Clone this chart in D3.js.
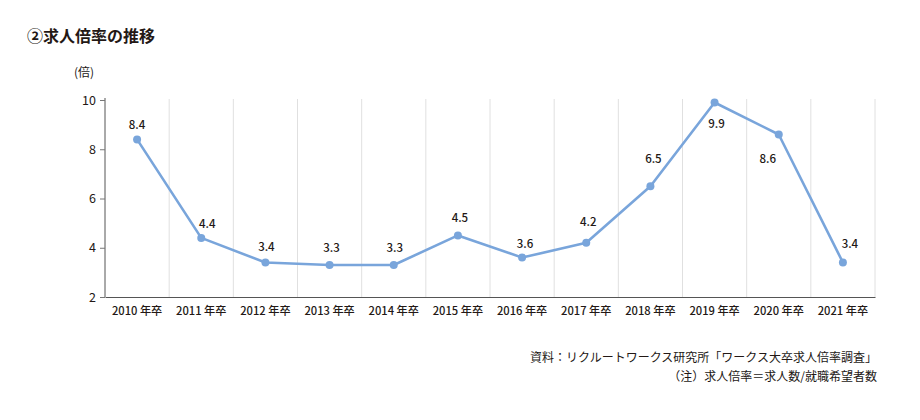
<!DOCTYPE html>
<html><head><meta charset="utf-8">
<script src="https://cdn.jsdelivr.net/npm/d3@7/dist/d3.min.js"></script>
<style>
html,body{margin:0;padding:0;background:#fff;}
svg{display:block;font-family:"Noto Sans CJK JP","Noto Sans",sans-serif;}
</style></head>
<body>
<svg id="c" width="920" height="420"></svg>
<script>
const categories = ["2010 年卒","2011 年卒","2012 年卒","2013 年卒","2014 年卒","2015 年卒","2016 年卒","2017 年卒","2018 年卒","2019 年卒","2020 年卒","2021 年卒"];
const values = [8.4, 4.4, 3.4, 3.3, 3.3, 4.5, 3.6, 4.2, 6.5, 9.9, 8.6, 3.4];
const yTicks = [2, 4, 6, 8, 10];
const titleText = "②求人倍率の推移";
const unitText = "(倍)";
const notes = ["資料：リクルートワークス研究所「ワークス大卒求人倍率調査」", "（注）求人倍率＝求人数/就職希望者数"];
// label placement offsets (layout, px)
const labelOffsets = [[0,-14],[6,-14],[1,-16],[2,-17],[1,-17],[2,-17],[3,-14],[2,-21],[3,-27],[2,22],[-11,24],[7,-19]];

const svg = d3.select("#c");
const pL = 105, pR = 875, pT = 100, pB = 297;
const x = d3.scaleBand().domain(categories).range([pL, pR]).padding(0);
const y = d3.scaleLinear().domain([2, 10]).range([pB, pT]);
const color = "#79a5db";
const ink = "#231815";

svg.append("text").attr("x", 27).attr("y", 42).attr("font-size", 16).attr("font-weight", 700)
  .attr("fill", ink).text(titleText);
svg.append("text").attr("x", 84).attr("y", 77).attr("text-anchor", "middle").attr("font-size", 12)
  .attr("fill", ink).text(unitText);

// vertical gridlines at band boundaries
const bounds = categories.map(c => x(c) + x.bandwidth());
svg.append("g").selectAll("line").data(bounds).join("line")
  .attr("x1", d => d).attr("x2", d => d).attr("y1", pT - 1).attr("y2", pB)
  .attr("stroke", "#e0e0e0").attr("stroke-width", 1);

// y axis
const ya = svg.append("g").attr("transform", `translate(${pL},0)`)
  .call(d3.axisLeft(y).tickValues(yTicks).tickSize(5).tickPadding(4).tickFormat(d3.format("d")));
ya.select(".domain").attr("stroke", "#555").attr("d", `M0,${pT - 2}V${pB}`);
ya.selectAll(".tick line").attr("stroke", "#777");
ya.selectAll(".tick text").attr("font-size", 12.5).attr("fill", ink).attr("font-family", "'Noto Sans CJK JP',sans-serif");

// x axis
const xa = svg.append("g").attr("transform", `translate(0,${pB})`)
  .call(d3.axisBottom(x).tickSize(0).tickPadding(10));
xa.select(".domain").attr("stroke", "#555");
xa.selectAll(".tick text").attr("font-size", 11.2).attr("font-weight", 500).attr("fill", ink)
  .attr("font-family", "'Noto Sans CJK JP',sans-serif");

const cx = c => x(c) + x.bandwidth() / 2;
const line = d3.line().x((d, i) => cx(categories[i])).y(d => y(d));
svg.append("path").datum(values).attr("d", line).attr("fill", "none")
  .attr("stroke", color).attr("stroke-width", 2.6).attr("stroke-linejoin", "round");
svg.append("g").selectAll("circle").data(values).join("circle")
  .attr("cx", (d, i) => cx(categories[i])).attr("cy", d => y(d)).attr("r", 4).attr("fill", color);

svg.append("g").selectAll("text").data(values).join("text")
  .attr("x", (d, i) => cx(categories[i]) + labelOffsets[i][0])
  .attr("y", (d, i) => y(d) + labelOffsets[i][1])
  .attr("dy", "0.35em").attr("text-anchor", "middle").attr("font-size", 11.5).attr("font-weight", 500)
  .attr("fill", ink).text(d => d3.format(".1f")(d));

svg.append("g").selectAll("text").data(notes).join("text")
  .attr("x", 877).attr("y", (d, i) => 362 + i * 19).attr("text-anchor", "end")
  .attr("font-size", 12).attr("fill", ink).text(d => d);
</script>
</body></html>
